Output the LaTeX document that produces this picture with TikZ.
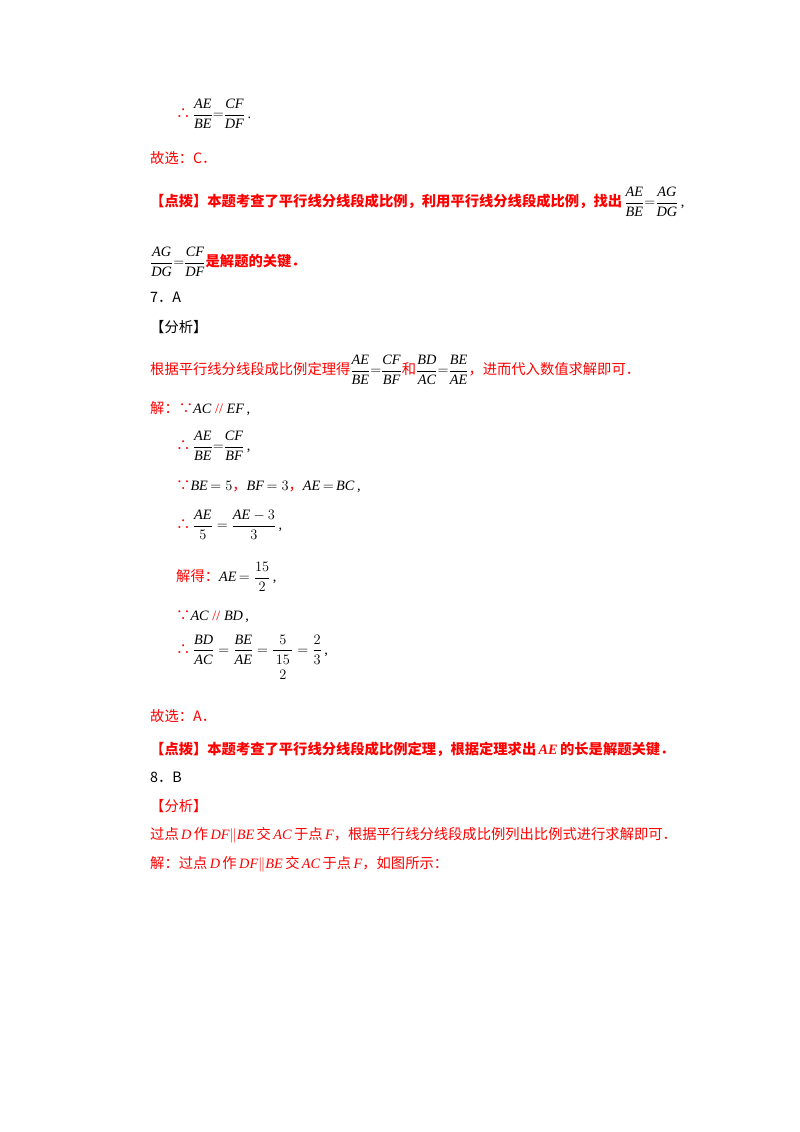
\documentclass[tikz,border=0pt]{standalone}
\usepackage{amsmath}
\usepackage{fontspec}
\setmainfont{Liberation Serif}
\newfontfamily\cjk{Noto Sans CJK SC}
\definecolor{rd}{RGB}{255,0,0}
\newcommand{\R}[1]{{\color{rd}\cjk #1}}
\newcommand{\RB}[1]{{\color{rd}\cjk\bfseries #1}}
\newcommand{\Fr}[2]{$\dfrac{\textit{#1}}{\textit{#2}}$}
\newcommand{\I}[1]{\textit{#1}}
\newcommand{\RI}[1]{{\color{rd}\itshape #1}}
\newcommand{\PL}{{\color{rd}$\parallel$}}
\begin{document}
\begin{tikzpicture}[x=1pt,y=-1pt,
  ln/.style={anchor=west,inner sep=0pt,font=\fontsize{14.3}{17}\selectfont}]
\useasboundingbox[fill=white] (0,0) rectangle (800,1132);
\node[ln] (l1) at (176,114) {\R{∴}\,\Fr{AE}{BE}$=$\Fr{CF}{DF}\,.};
\node[ln] (l2) at (150,158) {\R{故选：C．}};
\node[ln] (l3) at (150,202) {\RB{【点拨】本题考查了平行线分线段成比例，利用平行线分线段成比例，找出}\,\Fr{AE}{BE}$=$\Fr{AG}{DG}\,,};
\node[ln] (l4) at (150,262) {\Fr{AG}{DG}$=$\Fr{CF}{DF}\RB{是解题的关键．}};
\node[ln] (l5) at (150,297) {\cjk 7．A};
\node[ln] (l6) at (150,327) {\cjk 【分析】};
\node[ln] (l7) at (150,370) {\R{根据平行线分线段成比例定理得}\Fr{AE}{BE}$=$\Fr{CF}{BF}\R{和}\Fr{BD}{AC}$=$\Fr{BE}{AE}\R{，进而代入数值求解即可．}};
\node[ln] (l8) at (150,409) {\R{解：∵}\I{AC} {\color{rd}//} \I{EF}\,,};
\node[ln] (l9) at (176,446) {\R{∴}\,\Fr{AE}{BE}$=$\Fr{CF}{BF}\,,};
\node[ln] (l10) at (176,487) {\R{∵}\I{BE}$\,=5$\R{，}\I{BF}$\,=3$\R{，}\I{AE}$\,=\,$\I{BC}\,,};
\node[ln] (l11) at (176,525) {\R{∴}\,$\dfrac{\textit{AE}}{5}=\dfrac{\textit{AE}-3}{3}$\,,};
\node[ln] (l12) at (176,577) {\R{解得：}\I{AE}$\,=\dfrac{15}{2}$\,,};
\node[ln] (l13) at (176,617) {\R{∵}\I{AC} {\color{rd}//} \I{BD}\,,};
\node[ln] (l14) at (176,660) {\R{∴}\,$\dfrac{\textit{BD}}{\textit{AC}}=\dfrac{\textit{BE}}{\textit{AE}}=\dfrac{5}{\,\begin{matrix}15\\[-2pt]2\end{matrix}\,}=\dfrac{2}{3}$\,,};
\node[ln] (l15) at (150,716) {\R{故选：A．}};
\node[ln] (l16) at (150,749) {\RB{【点拨】本题考查了平行线分线段成比例定理，根据定理求出}\,{\color{rd}\bfseries\itshape AE}\,\RB{的长是解题关键．}};
\node[ln] (l17) at (150,777) {\cjk 8．B};
\node[ln] (l18) at (150,806) {\R{【分析】}};
\node[ln] (l19) at (150,835) {\R{过点}\,\RI{D}\,\R{作}\,\RI{DF}\PL\RI{BE}\,\R{交}\,\RI{AC}\,\R{于点}\,\RI{F}\R{，根据平行线分线段成比例列出比例式进行求解即可．}};
\node[ln] (l20) at (150,864) {\R{解：过点}\,\RI{D}\,\R{作}\,\RI{DF}\PL\RI{BE}\,\R{交}\,\RI{AC}\,\R{于点}\,\RI{F}\R{，如图所示：}};
\end{tikzpicture}
\end{document}
